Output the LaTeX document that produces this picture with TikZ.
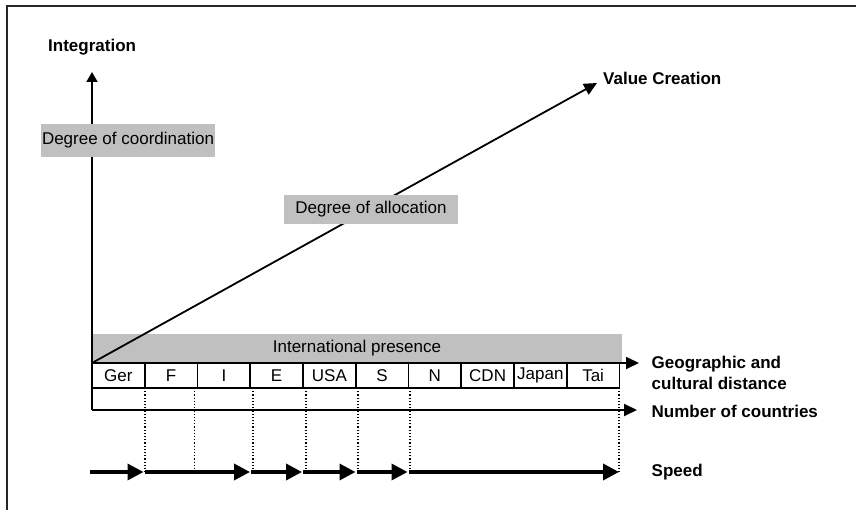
\documentclass[tikz,border=0pt]{standalone}
\usepackage{fontspec}
\setmainfont{Liberation Sans}
\usetikzlibrary{arrows.meta}
\definecolor{panelgray}{RGB}{192,192,192}
\begin{document}
\begin{tikzpicture}[x=1pt,y=-1pt,
  every node/.style={font=\fontsize{17}{20.6}\selectfont},
  axislabel/.style={anchor=west,inner sep=0pt,align=left,font=\fontsize{17}{20.6}\selectfont\bfseries},
  graybox/.style={fill=panelgray,inner sep=0pt},
  cell/.style={draw,line width=1.6pt,minimum width=52.75pt,minimum height=25pt,inner sep=0pt},
  thinarrow/.style={line width=1.8pt,-{Triangle[length=13pt,width=12pt]}},
  speedarrow/.style={line width=3.5pt,-{Triangle[length=16pt,width=16pt]}},
  guide/.style={line width=1.2pt,dotted}]
\useasboundingbox (0,0) rectangle (856,510);

% outer frame
\draw[line width=2pt,black!85] (7,510) -- (7,6) -- (856,6);

% key points of the axes
\coordinate (origin) at (92,363);
\coordinate (base) at (92,410);
\coordinate (intTop) at (92,72);
\coordinate (valTop) at (597,83);
\coordinate (geoEnd) at (639,363);
\coordinate (numEnd) at (637,410);

% international presence band
\node[graybox,minimum width=530pt,minimum height=29pt] (band) at (357,348.5) {International presence};

% axes
\draw[line width=1.8pt,-{Triangle[length=10pt,width=11pt]}] (base) -- (intTop);
\draw[thinarrow] (origin) -- (valTop);

% labelled boxes on the axes
\node[graybox,minimum width=174pt,minimum height=33pt] (coord) at (128,140.5) {Degree of coordination};
\node[graybox,minimum width=174pt,minimum height=29pt] (alloc) at (371,209.5) {Degree of allocation};

% country cells
\foreach \lab [count=\i] in {Ger,F,I,E,USA,S,N,CDN,Japan,Tai}
  \node[cell] (c\i) at ({92+52.75*(\i-0.5)},375.5) {\lab};

\draw[thinarrow] (origin) -- (geoEnd);
\draw[thinarrow] (base) -- (numEnd);

% axis labels
\node[axislabel] (lint) at (48,47) {Integration};
\node[axislabel] (lval) at (603,78) {Value Creation};
\node[axislabel] (lgeo) at (651.5,373) {Geographic and\\cultural distance};
\node[axislabel] (lnum) at (651.5,411) {Number of countries};
\node[axislabel] (lspd) at (651.5,472) {Speed};

% speed steps and their guide lines
\foreach \n/\x in {0/90,1/144.5,2/251,3/303,4/356.5,5/408.5,6/620}
  \coordinate (s\n) at (\x,472);
\foreach \n/\x in {1/145,2/194.5,3/253,4/306,5/358,6/410,7/619}{
  \coordinate (gt\n) at (\x,388);
  \coordinate (gb\n) at (\x,472);
  \draw[guide] (gt\n) -- (gb\n);
}
\foreach \a/\b in {0/1,1/2,2/3,3/4,4/5,5/6}
  \draw[speedarrow,shorten >=1pt] (s\a) -- (s\b);
\end{tikzpicture}
\end{document}
